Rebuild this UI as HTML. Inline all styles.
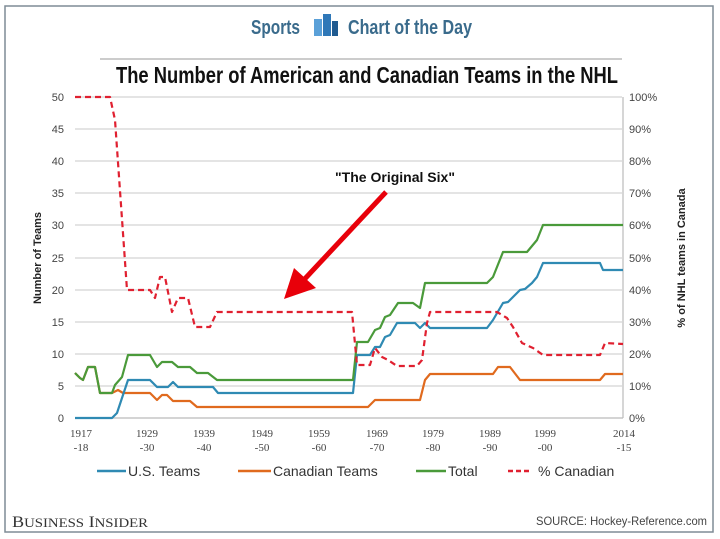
<!DOCTYPE html>
<html><head><meta charset="utf-8"><style>
body{margin:0;background:#fff;}
svg{display:block;font-family:"Liberation Sans",sans-serif;}
</style></head><body>
<svg width="720" height="539" viewBox="0 0 720 539" xmlns="http://www.w3.org/2000/svg">
<rect x="5" y="6" width="708" height="526" fill="#fff" stroke="#7f8c96" stroke-width="1.5"/>
<text x="251" y="34" font-size="20" font-weight="bold" fill="#3a6b8c" textLength="49" lengthAdjust="spacingAndGlyphs">Sports</text>
<rect x="314" y="19" width="8" height="17" fill="#5aa0d8"/><rect x="323" y="14" width="8" height="22" fill="#2f78b8"/><rect x="332" y="21" width="6" height="15" fill="#1f5a90"/>
<text x="348" y="34" font-size="20" font-weight="bold" fill="#3a6b8c" textLength="124" lengthAdjust="spacingAndGlyphs">Chart of the Day</text>
<line x1="100" y1="59" x2="622" y2="59" stroke="#999" stroke-width="1"/>
<text x="116" y="83" font-size="23" font-weight="bold" fill="#111" textLength="502" lengthAdjust="spacingAndGlyphs">The Number of American and Canadian Teams in the NHL</text>
<g stroke="#d4d4d4" stroke-width="1.2">
<line x1="75" y1="97" x2="622" y2="97"/><line x1="75" y1="129" x2="622" y2="129"/><line x1="75" y1="161" x2="622" y2="161"/><line x1="75" y1="193" x2="622" y2="193"/><line x1="75" y1="225" x2="622" y2="225"/><line x1="75" y1="258" x2="622" y2="258"/><line x1="75" y1="290" x2="622" y2="290"/><line x1="75" y1="322" x2="622" y2="322"/><line x1="75" y1="354" x2="622" y2="354"/><line x1="75" y1="386" x2="622" y2="386"/>
</g>
<line x1="75" y1="418" x2="623" y2="418" stroke="#bbb" stroke-width="1.2"/>
<line x1="623" y1="97" x2="623" y2="418" stroke="#bbb" stroke-width="1.2"/>
<g font-size="11" fill="#444" text-anchor="end">
<text x="64" y="101">50</text><text x="64" y="133">45</text><text x="64" y="165">40</text><text x="64" y="197">35</text><text x="64" y="229">30</text><text x="64" y="262">25</text><text x="64" y="294">20</text><text x="64" y="326">15</text><text x="64" y="358">10</text><text x="64" y="390">5</text><text x="64" y="422">0</text>
</g>
<g font-size="11" fill="#444">
<text x="629" y="101">100%</text><text x="629" y="133">90%</text><text x="629" y="165">80%</text><text x="629" y="197">70%</text><text x="629" y="229">60%</text><text x="629" y="262">50%</text><text x="629" y="294">40%</text><text x="629" y="326">30%</text><text x="629" y="358">20%</text><text x="629" y="390">10%</text><text x="629" y="422">0%</text>
</g>
<text transform="translate(41,258) rotate(-90)" font-size="11" font-weight="bold" fill="#222" text-anchor="middle">Number of Teams</text>
<text transform="translate(685,258) rotate(-90)" font-size="11" font-weight="bold" fill="#222" text-anchor="middle">% of NHL teams in Canada</text>
<g font-size="11" fill="#444" text-anchor="middle" font-family="Liberation Serif, serif">
<text x="81" y="437">1917</text><text x="81" y="451">-18</text>
<text x="147" y="437">1929</text><text x="147" y="451">-30</text>
<text x="204" y="437">1939</text><text x="204" y="451">-40</text>
<text x="262" y="437">1949</text><text x="262" y="451">-50</text>
<text x="319" y="437">1959</text><text x="319" y="451">-60</text>
<text x="377" y="437">1969</text><text x="377" y="451">-70</text>
<text x="433" y="437">1979</text><text x="433" y="451">-80</text>
<text x="490" y="437">1989</text><text x="490" y="451">-90</text>
<text x="545" y="437">1999</text><text x="545" y="451">-00</text>
<text x="624" y="437">2014</text><text x="624" y="451">-15</text>
</g>
<g fill="none" stroke-width="2.2" stroke-linejoin="round">
<polyline stroke="#e06a1e" points="75,373 80,378 83,380 88,367 95,367 100,393 112,393 118,390 123,393 150,393 157,400 162,395 167,395 173,401 190,401 197,407 353,407 368,407 375,400 420,400 425,380 430,374 493,374 498,367 510,367 520,380 600,380 605,374 623,374"/>
<polyline stroke="#2f8ab3" points="75,418 112,418 117,413 128,380 150,380 157,387 168,387 173,382 178,387 213,387 218,393 353,393 357,355 370,355 375,347 380,347 385,337 390,335 397,323 415,323 420,328 425,323 430,328 487,328 493,320 503,303 508,302 513,297 520,290 525,289 532,283 537,277 543,263 600,263 603,270 623,270"/>
<polyline stroke="#4a9a3a" points="75,373 80,378 83,380 88,367 95,367 100,393 112,393 115,385 122,377 128,355 150,355 157,367 162,362 172,362 178,367 190,367 197,373 208,373 217,380 353,380 357,342 368,342 375,330 380,328 385,317 390,315 398,303 413,303 420,308 425,283 487,283 493,277 503,252 527,252 537,240 543,225 623,225"/>
<polyline stroke="#e02030" stroke-dasharray="6,4" points="75,97 110,97 115,120 127,290 150,290 155,298 160,277 165,277 172,312 178,298 188,298 195,327 210,327 217,312 352,312 357,365 370,365 375,348 382,357 388,360 397,366 417,366 422,360 427,323 430,312 497,312 507,318 513,327 522,343 533,348 543,355 600,355 605,343 623,344"/>
</g>
<line x1="386" y1="192" x2="300" y2="284" stroke="#e8000a" stroke-width="5"/>
<polygon points="284,299 294,268 316,288" fill="#e8000a"/>
<text x="335" y="182" font-size="14" font-weight="bold" fill="#111" textLength="120" lengthAdjust="spacingAndGlyphs">"The Original Six"</text>
<g font-size="14" fill="#333">
<line x1="97" y1="471" x2="126" y2="471" stroke="#2f8ab3" stroke-width="2.5"/><text x="128" y="476">U.S. Teams</text>
<line x1="238" y1="471" x2="271" y2="471" stroke="#e06a1e" stroke-width="2.5"/><text x="273" y="476">Canadian Teams</text>
<line x1="416" y1="471" x2="446" y2="471" stroke="#4a9a3a" stroke-width="2.5"/><text x="448" y="476">Total</text>
<line x1="508" y1="471" x2="532" y2="471" stroke="#e02030" stroke-width="2.5" stroke-dasharray="5,3"/><text x="538" y="476">% Canadian</text>
</g>
<text x="12" y="527" font-size="16" fill="#333" font-family="Liberation Serif, serif" textLength="136" lengthAdjust="spacingAndGlyphs">B<tspan font-size="13">USINESS</tspan> I<tspan font-size="13">NSIDER</tspan></text>
<text x="536" y="525" font-size="12" fill="#444" textLength="171" lengthAdjust="spacingAndGlyphs">SOURCE: Hockey-Reference.com</text>
</svg>
</body></html>
